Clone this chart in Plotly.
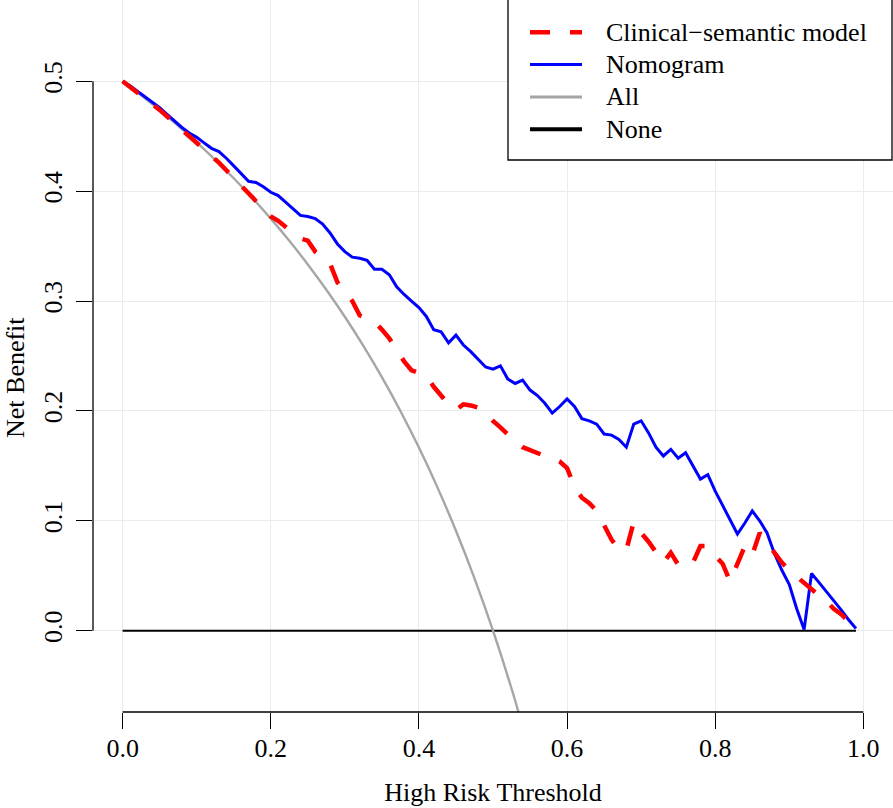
import plotly.graph_objects as go

# ---------------- data ----------------
thresholds = [round(i * 0.01, 2) for i in range(100)]  # 0.00 .. 0.99

nomogram_nb = [
    0.500, 0.496, 0.491, 0.486, 0.481, 0.476, 0.470, 0.464, 0.458, 0.453,
    0.449, 0.444, 0.439, 0.436, 0.430, 0.423, 0.416, 0.409, 0.408, 0.404,
    0.399, 0.396, 0.390, 0.384, 0.378, 0.377, 0.375, 0.370, 0.362, 0.352,
    0.345, 0.340, 0.339, 0.337, 0.329, 0.329, 0.324, 0.313, 0.306, 0.300,
    0.294, 0.286, 0.274, 0.272, 0.262, 0.269, 0.260, 0.254, 0.247, 0.240,
    0.238, 0.241, 0.229, 0.225, 0.228, 0.219, 0.214, 0.207, 0.198, 0.204,
    0.211, 0.204, 0.193, 0.191, 0.188, 0.179, 0.178, 0.174, 0.167, 0.188,
    0.191, 0.180, 0.167, 0.159, 0.165, 0.157, 0.162, 0.150, 0.138, 0.142,
    0.127, 0.114, 0.101, 0.088, 0.098, 0.109, 0.100, 0.089, 0.070, 0.055,
    0.042, 0.020, 0.001, 0.052, 0.044, 0.036, 0.027, 0.019, 0.010, 0.002,
]

clinical_nb = [
    0.500, 0.495, 0.490, 0.485, 0.479, 0.474, 0.468, 0.462, 0.456, 0.450,
    0.445, 0.439, 0.432, 0.426, 0.419, 0.412, 0.405, 0.398, 0.391, 0.384,
    0.377, 0.373, 0.367, 0.362, 0.357, 0.355, 0.345, 0.340, 0.334, 0.317,
    0.309, 0.300, 0.287, 0.284, 0.281, 0.274, 0.266, 0.256, 0.245, 0.237,
    0.234, 0.232, 0.222, 0.214, 0.206, 0.201, 0.206, 0.205, 0.203, 0.199,
    0.191, 0.185, 0.178, 0.172, 0.167, 0.164, 0.161, 0.159, 0.157, 0.154,
    0.148, 0.131, 0.121, 0.116, 0.109, 0.097, 0.083, 0.074, 0.0735, 0.099,
    0.089, 0.081, 0.072, 0.062, 0.071, 0.060, 0.058, 0.062, 0.077, 0.077,
    0.068, 0.061, 0.045, 0.060, 0.077, 0.069, 0.089, 0.080, 0.071, 0.062,
    0.055, 0.049, 0.043, 0.037, 0.032, 0.027, 0.020, 0.015, 0.008, 0.002,
]

all_thresholds = [0.0, 0.025, 0.05, 0.075, 0.1, 0.125, 0.15, 0.175, 0.2, 0.225,
                  0.25, 0.275, 0.3, 0.325, 0.35, 0.375, 0.4, 0.425, 0.45, 0.475,
                  0.5, 0.525, 0.55]
all_nb = [0.5, 0.48718, 0.47368, 0.45946, 0.44444, 0.42857, 0.41176, 0.39394,
          0.375, 0.35484, 0.33333, 0.31034, 0.28571, 0.25926, 0.23077, 0.2,
          0.16667, 0.13043, 0.09091, 0.04762, 0.0, -0.05263, -0.11111]

none_thresholds = [0.0, 0.99]
none_nb = [0.0, 0.0]

x_ticks = [0.0, 0.2, 0.4, 0.6, 0.8, 1.0]
x_tick_labels = ["0.0", "0.2", "0.4", "0.6", "0.8", "1.0"]
y_ticks = [0.0, 0.1, 0.2, 0.3, 0.4, 0.5]
y_tick_labels = ["0.0", "0.1", "0.2", "0.3", "0.4", "0.5"]

legend_names = ["Clinical\u2212semantic model", "Nomogram", "All", "None"]
x_title = "High Risk Threshold"
y_title = "Net Benefit"

# ---------------- styles ----------------
FONT = "Liberation Serif"
RED, BLUE, GRAY, BLACK = "#FF0000", "#0000FF", "#A6A6A6", "#000000"
W, H = 893, 808
ML, MR, MT, MB = 93, 0, 0, 96
PW, PH = W - ML - MR, H - MT - MB

fig = go.Figure()
fig.add_trace(go.Scatter(x=none_thresholds, y=none_nb, mode="lines",
                         line=dict(color=BLACK, width=2), name=legend_names[3],
                         showlegend=False))
fig.add_trace(go.Scatter(x=all_thresholds, y=all_nb, mode="lines",
                         line=dict(color=GRAY, width=2.4, shape="spline"),
                         name=legend_names[2], showlegend=False))
fig.add_trace(go.Scatter(x=thresholds, y=nomogram_nb, mode="lines",
                         line=dict(color=BLUE, width=3), name=legend_names[1],
                         showlegend=False))
fig.add_trace(go.Scatter(x=thresholds, y=clinical_nb, mode="lines",
                         line=dict(color=RED, width=4.5, dash="20px,20px"),
                         name=legend_names[0], showlegend=False))

shapes = []
# R-style axis lines spanning only the tick range
shapes.append(dict(type="line", xref="x", yref="paper", x0=0, x1=1, y0=0, y1=0,
                   line=dict(color=BLACK, width=1.3)))
shapes.append(dict(type="line", xref="paper", yref="y", x0=0, x1=0, y0=0, y1=0.5,
                   line=dict(color=BLACK, width=1.3)))


def px_x(px):
    return (px - ML) / PW


def px_y(py):
    return (H - MB - py) / PH


# manual legend box (R-style, its top edge lies just above the picture)
shapes.append(dict(type="rect", xref="paper", yref="paper",
                   x0=px_x(508), x1=px_x(892), y0=px_y(160), y1=px_y(-3),
                   line=dict(color=BLACK, width=1.3), fillcolor="white", layer="above"))
legend_styles = [
    dict(color=RED, width=4.5, dash="20px,20px"),
    dict(color=BLUE, width=3),
    dict(color=GRAY, width=3),
    dict(color=BLACK, width=4),
]
annotations = []
for i, (name, st) in enumerate(zip(legend_names, legend_styles)):
    yy = 32.3 + 32.3 * i
    shapes.append(dict(type="line", xref="paper", yref="paper",
                       x0=px_x(530), x1=px_x(582), y0=px_y(yy), y1=px_y(yy),
                       line=st, layer="above"))
    annotations.append(dict(text=name, xref="paper", yref="paper",
                            x=px_x(604), y=px_y(yy), xanchor="left", yanchor="middle",
                            showarrow=False, font=dict(family=FONT, size=26, color=BLACK)))

# y-axis title (placed like the R ylab)
annotations.append(dict(text=y_title, xref="paper", yref="paper",
                        x=px_x(15), y=px_y(378), xanchor="center", yanchor="middle",
                        textangle=-90, showarrow=False, borderpad=0,
                        font=dict(family=FONT, size=26, color=BLACK)))

fig.update_layout(
    width=W, height=H,
    margin=dict(l=ML, r=MR, t=MT, b=MB, autoexpand=False),
    paper_bgcolor="white", plot_bgcolor="white",
    font=dict(family=FONT, size=26, color=BLACK),
    showlegend=False,
    shapes=shapes, annotations=annotations,
    xaxis=dict(range=[-0.04, 1.04], tickvals=x_ticks, ticktext=x_tick_labels,
               ticks="outside", ticklen=16, tickwidth=1.3, tickcolor=BLACK,
               ticklabelstandoff=-3,
               showgrid=True, gridcolor="#EBEBEB", gridwidth=1.3,
               zeroline=False, showline=False, automargin=False,
               tickfont=dict(family=FONT, size=26, color=BLACK),
               title=dict(text=x_title, standoff=20,
                          font=dict(family=FONT, size=26, color=BLACK))),
    yaxis=dict(range=[-0.074, 0.574], tickvals=y_ticks, ticktext=y_tick_labels,
               ticks="outside", ticklen=16, tickwidth=1.3, tickcolor=BLACK,
               tickangle=-90, ticklabelstandoff=4,
               showgrid=True, gridcolor="#EBEBEB", gridwidth=1.3,
               zeroline=False, showline=False, automargin=False,
               tickfont=dict(family=FONT, size=26, color=BLACK)),
)

fig.write_html("out.html", config={"displayModeBar": False},
               post_script="document.body.style.margin='0';document.body.style.overflow='hidden';")
